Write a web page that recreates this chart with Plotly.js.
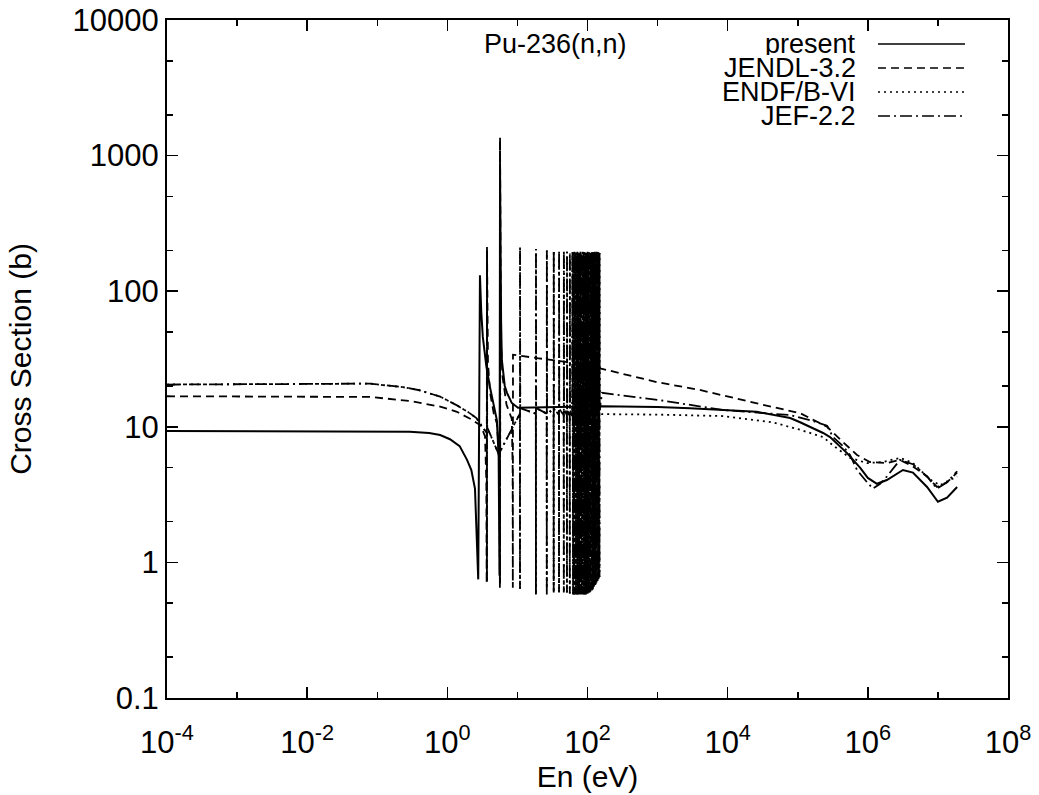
<!DOCTYPE html>
<html>
<head>
<meta charset="utf-8">
<script src="https://cdn.plot.ly/plotly-3.0.1.min.js"></script>
<style>html,body{margin:0;padding:0;background:#fff;}#chart{width:1039px;height:795px;}</style>
</head>
<body>
<div id="chart"></div>
<script>
// ---------- data ----------
const seriesNames = ['present', 'JENDL-3.2', 'ENDF/B-VI', 'JEF-2.2'];

const presentE = [1e-4, 1e-3, 1e-2, 0.1, 0.29, 0.55, 0.79, 1.09, 1.5, 1.91, 2.2, 2.48, 2.6, 2.7, 2.76, 2.92, 2.95, 3.05, 3.21, 3.6, 4.06, 4.6, 5.09, 5.4, 5.55, 5.65, 5.72, 5.85, 6.0, 6.6, 7.1, 8.3, 10.2, 30, 161, 1000, 2900, 26000, 78000, 108000, 230000, 289000, 505000, 774000, 1.0e6, 1.35e6, 1.87e6, 3.17e6, 4.4e6, 7.0e6, 1.0e7, 1.35e7, 1.88e7];
const presentXS = [9.3, 9.3, 9.3, 9.3, 9.2, 9.0, 8.7, 8.1, 7.2, 5.7, 4.8, 3.5, 2.0, 1.0, 0.75, 131, 110, 70, 46, 28, 19.6, 14, 11.2, 6.0, 0.8, 800, 150, 60, 31, 20, 17.8, 15, 13.8, 13.9, 14.2, 14.0, 13.7, 12.9, 11.6, 10.8, 9.0, 8.4, 6.4, 5.0, 4.2, 3.8, 4.05, 4.8, 4.6, 3.6, 2.8, 3.0, 3.6];

const jendlE = [1e-4, 1e-3, 1e-2, 0.079, 0.29, 0.79, 1.37, 2.3, 3.0, 3.45, 3.6, 3.64, 3.68, 3.72, 3.8, 4.06, 4.6, 5.09, 5.45, 5.58, 5.62, 5.65, 5.7, 5.8, 6.1, 7.0, 8.3, 8.55, 8.6, 8.65, 20, 66, 151, 1000, 4000, 8600, 20800, 108000, 262000, 443000, 701000, 1.07e6, 1.87e6, 2.88e6, 4.4e6, 7.0e6, 9.7e6, 1.35e7, 1.88e7];
const jendlXS = [16.8, 16.8, 16.8, 16.6, 15.5, 14.1, 12.9, 11.2, 10.2, 8.5, 4, 0.7, 214, 60, 30, 18, 12.5, 10.6, 6.5, 2, 0.65, 1370, 120, 45, 24, 14.5, 11.5, 5, 0.65, 34, 32, 29.5, 27, 21.3, 18.7, 17, 15.3, 12.6, 10.0, 7.7, 6.2, 5.5, 5.4, 5.7, 5.1, 4.3, 3.6, 3.9, 4.6];

// thermal part (JEF-2.2 and ENDF/B-VI coincide below the resonances)
const jefLowE  = [1e-4, 1e-3, 1e-2, 0.05, 0.079, 0.233, 0.4, 0.79, 1.37, 2.0, 2.6, 3.2];
const jefLowXS = [20.5, 20.5, 20.7, 20.8, 20.8, 19.6, 18.6, 16.7, 14.4, 12.8, 11.6, 9.9];
const endfLowE  = [1e-4, 1e-3, 1e-2, 0.05, 0.079, 0.233, 0.4, 0.79, 1.37, 2.0, 2.6, 3.2];
const endfLowXS = [20.5, 20.5, 20.7, 20.8, 20.8, 19.6, 18.6, 16.7, 14.4, 12.8, 11.6, 9.9];

// resolved resonances (energy, peak, dip, level just before) shared by JEF-2.2 / ENDF/B-VI
const resE = [3.68, 5.65, 10.9, 18.4, 26.3, 33.0, 39.3, 46.0, 51.0, 56.0,
  61.0, 62.4, 63.5, 65.1, 66.8, 68.3, 70.2, 71.6, 72.9, 74.8,
  76.4, 77.7, 79.1, 80.9, 82.7, 84.0, 85.3, 87.2, 88.9, 90.5,
  92.4, 93.6, 95.0, 96.9, 98.6, 100.4, 102.3, 103.6, 105.1, 107.5,
  109.7, 111.4, 113.2, 115.3, 117.8, 119.6, 121.5, 123.8, 125.9, 128.0,
  130.4, 132.1, 134.0, 136.2, 138.6, 140.8, 143.1, 145.6, 148.5];
const resPeak = [200, 1250, 210, 205, 200, 200, 195, 195, 195, 190,
  195, 190, 192, 195, 190, 193, 190, 195, 192, 190,
  194, 190, 195, 191, 190, 193, 195, 190, 192, 194,
  190, 195, 191, 190, 193, 195, 190, 192, 194, 190,
  195, 191, 190, 193, 195, 190, 192, 194, 190, 195,
  191, 190, 193, 195, 190, 192, 194, 190, 191];
const resDip = [0.72, 0.7, 0.64, 0.58, 0.58, 0.6, 0.6, 0.6, 0.6, 0.59,
  0.59, 0.58, 0.58, 0.58, 0.58, 0.58, 0.58, 0.58, 0.58, 0.58,
  0.58, 0.58, 0.58, 0.58, 0.58, 0.58, 0.58, 0.58, 0.58, 0.58,
  0.58, 0.58, 0.58, 0.59, 0.59, 0.59, 0.6, 0.6, 0.6, 0.6,
  0.61, 0.61, 0.62, 0.62, 0.63, 0.64, 0.65, 0.66, 0.67, 0.68,
  0.69, 0.7, 0.71, 0.72, 0.73, 0.74, 0.75, 0.77, 0.78];
const resBase = [9.0, 6.0, 12.5, 12.5, 12.5, 12.3, 12.3, 12.2, 12.2, 12.0,
  12.0, 12.0, 12.0, 12.0, 12.0, 12.0, 12.0, 12.0, 12.0, 12.0,
  12.0, 12.0, 12.0, 12.0, 12.0, 12.0, 12.0, 12.0, 12.0, 12.0,
  12.0, 12.0, 12.0, 12.0, 12.0, 12.0, 12.0, 12.0, 12.0, 12.0,
  12.0, 12.0, 12.0, 12.0, 12.0, 12.0, 12.0, 12.0, 12.0, 12.0,
  12.0, 12.0, 12.0, 12.0, 12.0, 12.0, 12.0, 12.0, 12.0];

const jefHighE  = [161, 1000, 8600, 78000, 150000, 262000, 318000, 443000, 557000, 701000, 975000, 1.18e6, 1.5e6, 1.87e6, 2.88e6, 4.4e6, 7.0e6, 9.7e6, 1.35e7, 1.64e7, 1.88e7];
const jefHighXS = [17.8, 15.8, 13.3, 12.2, 11.2, 10.2, 8.4, 7.2, 6.2, 4.8, 3.9, 3.5, 3.8, 4.3, 5.7, 5.3, 4.3, 3.5, 3.9, 4.4, 4.7];

const endfHighE  = [161, 1000, 8600, 44000, 108000, 230000, 318000, 557000, 975000, 1.65e6, 2.88e6, 4.4e6, 7.7e6, 1.07e7, 1.4e7, 1.88e7];
const endfHighXS = [12.4, 12.3, 12.0, 10.8, 9.5, 8.4, 7.3, 5.9, 5.4, 5.5, 5.9, 5.4, 4.1, 3.7, 4.0, 4.3];

const xTickVals = [1e-4, 1e-2, 1, 1e2, 1e4, 1e6, 1e8];
const xTickText = ['10<sup>-4</sup>', '10<sup>-2</sup>', '10<sup>0</sup>', '10<sup>2</sup>', '10<sup>4</sup>', '10<sup>6</sup>', '10<sup>8</sup>'];
const xMinorVals = [1e-3, 1e-1, 10, 1e3, 1e5, 1e7];
const yTickVals = [0.1, 1, 10, 100, 1000, 10000];
const yTickText = ['0.1', '1', '10', '100', '1000', '10000'];
const yMinorVals = [0.2, 0.5, 2, 5, 20, 50, 200, 500, 2000, 5000];

// ---------- build resonance curves ----------
function withResonances(lowE, lowXS, highE, highXS) {
  const x = lowE.slice(), y = lowXS.slice();
  for (let i = 0; i < resE.length; i++) {
    const e = resE[i];
    x.push(e * 0.995, e * 0.9985, e, e * 1.002, e * 1.006);
    y.push(resBase[i], resDip[i], resPeak[i], resBase[i] * 2.5, resBase[i] * 1.1);
  }
  return {x: x.concat(highE), y: y.concat(highXS)};
}
const jef = withResonances(jefLowE, jefLowXS, jefHighE, jefHighXS);
const endf = withResonances(endfLowE, endfLowXS, endfHighE, endfHighXS);

const dashes = {present: 'solid', jendl: '8px,5px', endf: '2px,4px', jef: '12px,4px,2px,4px'};
const black = '#000';

const traces = [
  {x: endf.x, y: endf.y, name: seriesNames[2], mode: 'lines', line: {color: black, width: 1.8, dash: dashes.endf}},
  {x: jef.x, y: jef.y, name: seriesNames[3], mode: 'lines', line: {color: black, width: 1.8, dash: dashes.jef}},
  {x: jendlE, y: jendlXS, name: seriesNames[1], mode: 'lines', line: {color: black, width: 1.8, dash: dashes.jendl}},
  {x: presentE, y: presentXS, name: seriesNames[0], mode: 'lines', line: {color: black, width: 2, dash: dashes.present}}
];

const FONT = 'Liberation Sans, Arial, Helvetica, sans-serif';

// legend drawn as right-aligned text with line sample to its right (gnuplot style)
const legendDash = [dashes.present, dashes.jendl, dashes.endf, dashes.jef];
const legendRowsY = [0.9646, 0.9292, 0.8938, 0.8584];
const annotations = [
  {text: 'Pu-236(n,n)', xref: 'paper', yref: 'paper', x: 0.4625, y: 0.9646, xanchor: 'center', yanchor: 'middle', showarrow: false, font: {family: FONT, size: 27, color: black}}
];
const shapes = [];
seriesNames.forEach((n, i) => {
  annotations.push({text: n, xref: 'paper', yref: 'paper', x: 0.8217, y: legendRowsY[i], xanchor: 'right', yanchor: 'middle', height: 22, valign: 'middle', showarrow: false, font: {family: FONT, size: 27, color: black}});
  shapes.push({type: 'line', xref: 'paper', yref: 'paper', x0: 0.8454, x1: 0.9489, y0: legendRowsY[i], y1: legendRowsY[i], line: {color: black, width: 1.5, dash: legendDash[i]}});
});

const axisCommon = {
  type: 'log', showgrid: false, zeroline: false, showline: true, linecolor: black, linewidth: 2,
  mirror: 'allticks', ticks: 'inside', ticklen: 11, tickwidth: 1.5, tickcolor: black,
  tickfont: {family: FONT, size: 31, color: black}, tickmode: 'array'
};

const layout = {
  width: 1039, height: 795,
  margin: {l: 167, r: 31, t: 20, b: 97},
  paper_bgcolor: '#fff', plot_bgcolor: '#fff',
  showlegend: false,
  font: {family: FONT, color: black},
  xaxis: Object.assign({}, axisCommon, {
    range: [-4, 8], tickvals: xTickVals, ticktext: xTickText, ticklabelstandoff: 16,
    minor: {tickmode: 'array', tickvals: xMinorVals, ticks: 'inside', ticklen: 6, tickwidth: 1.5, tickcolor: black, showgrid: false},
    title: {text: 'En (eV)', font: {family: FONT, size: 30, color: black}, standoff: 2}
  }),
  yaxis: Object.assign({}, axisCommon, {
    range: [-1, 4], tickvals: yTickVals, ticktext: yTickText,
    minor: {tickmode: 'array', tickvals: yMinorVals, ticks: 'inside', ticklen: 6, tickwidth: 1.5, tickcolor: black, showgrid: false},
    title: {text: 'Cross Section (b)', font: {family: FONT, size: 30, color: black}, standoff: 32}
  }),
  annotations: annotations,
  shapes: shapes
};

Plotly.newPlot('chart', traces, layout, {displayModeBar: false, staticPlot: true});
</script>
</body>
</html>
